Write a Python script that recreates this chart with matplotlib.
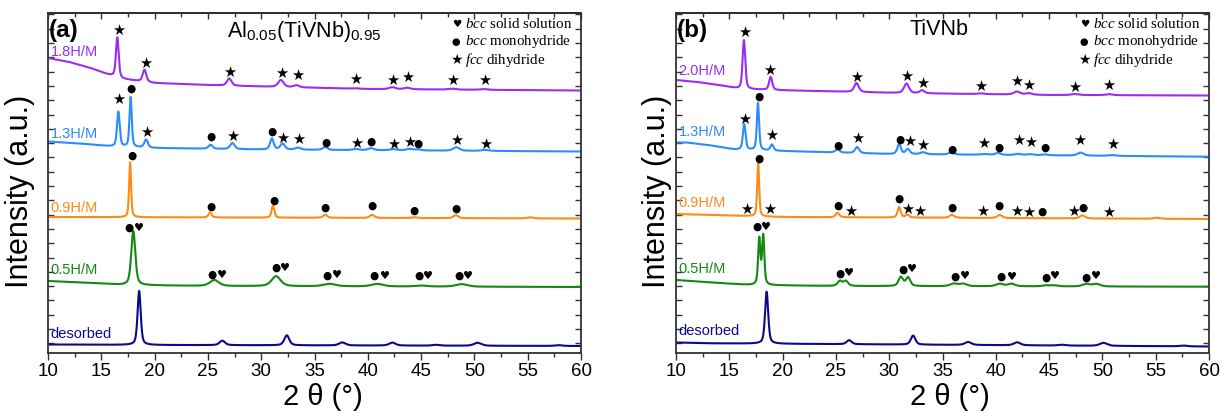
import numpy as np
import matplotlib
matplotlib.use("Agg")
import matplotlib.pyplot as plt
from matplotlib.ticker import MultipleLocator, FixedLocator

plt.rcParams['font.family'] = ['Liberation Sans', 'DejaVu Sans']
plt.rcParams['mathtext.default'] = 'regular'
plt.rcParams['mathtext.fontset'] = 'custom'
plt.rcParams['mathtext.rm'] = 'Liberation Sans'
plt.rcParams['mathtext.it'] = 'Liberation Serif:italic'

# ---------------- panel (a): Al0.05(TiVNb)0.95 ----------------
# baseline anchors (2theta, offset intensity) and peaks (2theta, height, fwhm)
A_DES_BX = [10, 20, 40, 60]
A_DES_BY = [8.5, 8, 7.5, 7]
A_DES_POS = [18.55, 26.35, 32.4, 37.6, 42.3, 46.4, 50.3, 57.9]
A_DES_HT = [54, 4.5, 10, 3, 3, 0.8, 3, 0.8]
A_DES_FW = [0.35, 0.6, 0.55, 0.7, 0.7, 0.8, 0.8, 0.8]

A_05_BX = [10, 14, 17, 25, 60]
A_05_BY = [72, 70, 68, 67, 66]
A_05_POS = [18.0, 25.6, 31.4, 36.4, 40.9, 45.0, 48.8]
A_05_HT = [54, 6, 10, 2.5, 2.5, 1, 2.5]
A_05_FW = [0.45, 1.0, 1.0, 1.3, 1.3, 1.3, 1.3]

A_09_BX = [10, 60]
A_09_BY = [136, 134.5]
A_09_POS = [17.7, 25.2, 31.1, 36.0, 40.4, 44.4, 48.25, 55.2]
A_09_HT = [55, 5, 12, 3, 3, 0.8, 3, 1]
A_09_FW = [0.22, 0.35, 0.3, 0.45, 0.5, 0.6, 0.5, 0.7]

A_13_BX = [10, 13, 16, 20, 30, 45, 60]
A_13_BY = [211.5, 209.5, 206.5, 205, 203.5, 202.5, 201.5]
A_13_POS = [16.6, 17.75, 19.2, 25.25, 27.3, 31.0, 32.0, 33.45, 36.0, 38.9, 40.3, 42.4, 43.9, 44.7, 48.3, 51.0]
A_13_HT = [35, 50, 8, 4, 6, 11, 6, 2, 3, 1, 2, 1.2, 1.5, 1, 3.5, 1]
A_13_FW = [0.3, 0.25, 0.4, 0.45, 0.5, 0.4, 0.5, 0.6, 0.5, 0.7, 0.6, 0.7, 0.7, 0.7, 0.7, 0.8]

A_18_BX = [10, 12, 14, 15.5, 17, 20, 25, 30, 40, 60]
A_18_BY = [295, 291, 285, 279, 274, 270, 268, 266.5, 264, 262.5]
A_18_POS = [16.5, 19.05, 27.0, 31.85, 33.3, 38.8, 42.3, 43.7, 47.9, 50.9]
A_18_HT = [40, 12, 7, 7, 2, 0.5, 2, 1.5, 1, 0.7]
A_18_FW = [0.3, 0.4, 0.5, 0.6, 0.6, 0.7, 0.7, 0.7, 0.8, 0.8]

# phase markers: 2theta, height, symbol
A_05_MX = [17.62, 18.5, 25.37, 26.28, 31.34, 32.21, 36.21, 37.15, 40.58, 41.61, 44.8, 45.68, 48.55, 49.43]
A_05_MY = [125.3, 125.3, 78, 78, 85.3, 85.3, 77.7, 77.7, 77, 77, 77, 77, 77.3, 77.3]
A_05_MS = "●♥" * 7
A_09_MX = [17.84, 25.25, 31.15, 35.96, 40.43, 44.37, 48.24]
A_09_MY = [197.3, 146.7, 152.7, 145.7, 147, 142.7, 144.7]
A_09_MS = "●" * 7
A_13_MX = [16.63, 17.78, 19.25, 25.25, 27.34, 31.02, 32.02, 33.5, 36.03, 38.93, 40.3, 42.43, 43.9, 44.74, 48.33, 51.05]
A_13_MY = [253.7, 264, 221, 216.7, 216.7, 221.7, 214.7, 213.3, 210.7, 209.3, 211.7, 208.7, 210.7, 209.7, 212.7, 208.3]
A_13_MS = "★●★●★●★★●★●★★●★★"
A_18_MX = [16.65, 19.12, 27.06, 31.93, 33.4, 38.84, 42.33, 43.77, 47.93, 50.98]
A_18_MY = [322.3, 290, 280.7, 279.7, 277.7, 273.3, 272.7, 275.3, 272.3, 272.3]
A_18_MS = "★" * 10

# ---------------- panel (b): TiVNb ----------------
B_DES_BX = [10, 13, 60]
B_DES_BY = [10.5, 9.7, 6.5]
B_DES_POS = [18.5, 26.24, 32.24, 37.4, 42.0, 46.2, 50.1, 57.6]
B_DES_HT = [52, 4, 9, 3, 3, 0.8, 3, 0.8]
B_DES_FW = [0.35, 0.55, 0.5, 0.7, 0.7, 0.8, 0.8, 0.8]

B_05_BX = [10, 14, 17, 25, 60]
B_05_BY = [73, 70, 68, 67, 66.3]
B_05_POS = [17.81, 18.18, 25.37, 25.93, 31.09, 31.77, 36.05, 36.93, 40.37, 41.46, 44.7, 45.5, 48.49, 49.43]
B_05_HT = [46, 49, 5, 5, 9, 8.5, 2.5, 2.5, 2.5, 2.5, 1, 1, 2.5, 2.5]
B_05_FW = [0.25, 0.25, 0.5, 0.5, 0.5, 0.5, 0.8, 0.8, 0.8, 0.8, 0.8, 0.8, 0.8, 0.8]

B_09_BX = [10, 20, 60]
B_09_BY = [139, 136, 134]
B_09_POS = [17.71, 25.15, 30.93, 31.7, 35.87, 40.37, 48.12, 55.1]
B_09_HT = [53, 4.5, 10.5, 3, 3, 3, 3, 1]
B_09_FW = [0.22, 0.4, 0.35, 0.4, 0.5, 0.55, 0.55, 0.7]

B_13_BX = [10, 11, 13, 15.5, 20, 30, 60]
B_13_BY = [210.5, 210.5, 208, 203.5, 202, 199, 196.3]
B_13_POS = [16.4, 17.69, 19.0, 25.15, 26.99, 30.93, 31.74, 33.18, 35.84, 38.9, 40.2, 42.1, 43.2, 44.6, 47.96, 50.9]
B_13_HT = [25.5, 47, 6, 3.5, 6, 10, 5, 2, 3, 0.8, 2, 1.2, 1, 0.8, 3, 0.8]
B_13_FW = [0.3, 0.25, 0.35, 0.45, 0.45, 0.4, 0.45, 0.6, 0.5, 0.7, 0.6, 0.7, 0.7, 0.7, 0.7, 0.8]

B_20_BX = [10, 12, 14, 16, 19, 27, 31, 45, 60]
B_20_BY = [273, 271, 268, 264, 263, 261, 260, 258, 257.5]
B_20_POS = [16.37, 18.88, 26.93, 31.62, 33.08, 38.6, 41.99, 43.1, 47.4, 50.6]
B_20_HT = [49, 13, 9, 9.5, 3, 0.7, 3, 1.5, 1, 1]
B_20_FW = [0.3, 0.35, 0.5, 0.55, 0.5, 0.7, 0.7, 0.7, 0.8, 0.8]

B_05_MX = [17.62, 18.43, 25.34, 26.21, 31.27, 32.15, 36.15, 37.09, 40.49, 41.56, 44.7, 45.59, 48.45, 49.39]
B_05_MY = [126.3, 125.7, 79, 79.7, 83.7, 83.7, 76.3, 77, 76.3, 76.3, 75.7, 77, 75.7, 77]
B_05_MS = "●♥" * 7
B_09_MX = [17.75, 16.65, 18.74, 25.15, 26.37, 30.95, 31.76, 32.82, 35.87, 38.8, 40.34, 41.93, 43.08, 44.36, 47.3, 48.17, 50.6]
B_09_MY = [194.7, 144, 144, 147.3, 141.7, 154, 143.8, 141.3, 145.7, 141.3, 147.7, 141.3, 140.3, 141.7, 141.3, 145.7, 140.7]
B_09_MS = "●★★●★●★★●★●★★●★●★"
B_13_MX = [16.44, 17.75, 19.0, 25.15, 27.03, 31.02, 31.93, 33.18, 35.84, 38.87, 40.27, 42.12, 43.24, 44.58, 47.89, 50.93]
B_13_MY = [234, 256.7, 217.3, 207.7, 214.7, 213, 211.3, 207.7, 203.7, 209.7, 205, 212.7, 210.7, 205, 212.7, 208.7]
B_13_MS = "★●★●★●★★●★●★★●★★"
B_20_MX = [16.44, 18.81, 26.96, 31.62, 33.12, 38.58, 41.96, 43.11, 47.37, 50.58]
B_20_MY = [320.3, 283, 275.3, 276.3, 269.7, 266.3, 272, 267.3, 265.7, 267.7]
B_20_MS = "★" * 10

A_LABELS = ["desorbed", "0.5H/M", "0.9H/M", "1.3H/M", "1.8H/M"]
B_LABELS = ["desorbed", "0.5H/M", "0.9H/M", "1.3H/M", "2.0H/M"]
COLORS = ["#0a0a8c", "#128a12", "#ff8a14", "#2b8cff", "#9a2ef0"]

LEGEND_SYM = ["♥", "●", "★"]
LEGEND_TXT = [r"$\mathit{bcc}$ solid solution", r"$\mathit{bcc}$ monohydride", r"$\mathit{fcc}$ dihydride"]

# glyph sizes for the phase symbols
SYM_SIZE = {"★": 10.5, "●": 7.6, "♥": 8}

tt = np.linspace(10, 60, 5001)


def pattern(bx, by, pos, ht, fw):
    y = np.interp(tt, bx, by)
    for p, h, w in zip(pos, ht, fw):
        d = (tt - p) / w
        y = y + h * (0.5 * np.exp(-4 * np.log(2) * d ** 2) + 0.5 / (1 + 4 * d ** 2))
    return y


def draw_panel(ax, curves, markers, labels, label_y, tag, title, title_x, title_y):
    for (bx, by, pos, ht, fw), col in zip(curves, COLORS):
        ax.plot(tt, pattern(bx, by, pos, ht, fw), color=col, lw=1.5)
    for mx, my, ms in markers:
        for x, y, s in zip(mx, my, ms):
            ax.text(x, y, s, ha='center', va='center', fontsize=SYM_SIZE[s],
                    family=['DejaVu Sans'], color='black')
    for lab, ly, col in zip(labels, label_y, COLORS):
        ax.text(10.25, ly, lab, color=col, fontsize=10.5, ha='left', va='center')
    ax.text(10.1, 322, tag, fontsize=17.5, fontweight='bold', ha='left', va='center')
    ax.text(title_x, title_y, title, fontsize=15.5, ha='center', va='baseline')
    for i, (s, t) in enumerate(zip(LEGEND_SYM, LEGEND_TXT)):
        yy = 329 - i * 18
        ax.text(48.3, yy, s, fontsize=SYM_SIZE[s] - 0.5, family=['DejaVu Sans'], ha='center', va='center')
        ax.text(49.1, yy, t, fontsize=10.8, family=['Liberation Serif'], ha='left', va='center')

    ax.set_xlim(10, 60)
    ax.set_ylim(0, 340)
    ax.xaxis.set_major_locator(MultipleLocator(5))
    ax.xaxis.set_minor_locator(MultipleLocator(2.5))
    ax.yaxis.set_major_locator(FixedLocator(np.arange(9.7, 340, 14.3)))
    ax.set_yticklabels([])
    ax.tick_params(axis='x', which='major', direction='out', length=5, width=1, labelsize=13.5, pad=2, color='#333333')
    ax.tick_params(axis='x', which='minor', direction='out', length=3, width=1, color='#333333')
    ax.tick_params(axis='y', which='major', direction='in', length=4, width=1, left=True, right=True, color='#333333')
    for sp in ax.spines.values():
        sp.set_linewidth(1.3)
        sp.set_color('#333333')
    # top ticks
    top = ax.secondary_xaxis('top')
    top.xaxis.set_major_locator(MultipleLocator(5))
    top.xaxis.set_minor_locator(MultipleLocator(2.5))
    top.tick_params(which='major', direction='in', length=4, width=1, labeltop=False, color='#333333')
    top.tick_params(which='minor', direction='in', length=3, width=1, color='#333333')
    top.spines['top'].set_linewidth(1.3)
    ax.set_xlabel(u"2 \u03b8 (\u00b0)", fontsize=21)
    ax.set_ylabel("Intensity (a.u.)", fontsize=22)


W, H = 1225, 416
fig = plt.figure(figsize=(W / 100, H / 100), dpi=100)
ax_a = fig.add_axes([48 / W, 1 - 353 / H, 533 / W, 340 / H])
ax_b = fig.add_axes([676 / W, 1 - 353 / H, 533 / W, 340 / H])

curves_a = [(A_DES_BX, A_DES_BY, A_DES_POS, A_DES_HT, A_DES_FW),
            (A_05_BX, A_05_BY, A_05_POS, A_05_HT, A_05_FW),
            (A_09_BX, A_09_BY, A_09_POS, A_09_HT, A_09_FW),
            (A_13_BX, A_13_BY, A_13_POS, A_13_HT, A_13_FW),
            (A_18_BX, A_18_BY, A_18_POS, A_18_HT, A_18_FW)]
marks_a = [(A_05_MX, A_05_MY, A_05_MS), (A_09_MX, A_09_MY, A_09_MS),
           (A_13_MX, A_13_MY, A_13_MS), (A_18_MX, A_18_MY, A_18_MS)]
curves_b = [(B_DES_BX, B_DES_BY, B_DES_POS, B_DES_HT, B_DES_FW),
            (B_05_BX, B_05_BY, B_05_POS, B_05_HT, B_05_FW),
            (B_09_BX, B_09_BY, B_09_POS, B_09_HT, B_09_FW),
            (B_13_BX, B_13_BY, B_13_POS, B_13_HT, B_13_FW),
            (B_20_BX, B_20_BY, B_20_POS, B_20_HT, B_20_FW)]
marks_b = [(B_05_MX, B_05_MY, B_05_MS), (B_09_MX, B_09_MY, B_09_MS),
           (B_13_MX, B_13_MY, B_13_MS), (B_20_MX, B_20_MY, B_20_MS)]

draw_panel(ax_a, curves_a, marks_a, A_LABELS, [19, 83, 144.7, 219.3, 300.5],
           "(a)", r"Al$_{0.05}$(TiVNb)$_{0.95}$", 34.0, 316)
draw_panel(ax_b, curves_b, marks_b, B_LABELS, [22, 84, 149.7, 221.3, 282.3],
           "(b)", "TiVNb", 34.7, 318)

ax_a.yaxis.set_label_coords(-0.024, 0.474)
ax_b.yaxis.set_label_coords(-0.008, 0.474)
ax_a.xaxis.set_label_coords(0.516, -0.088)
ax_b.xaxis.set_label_coords(0.514, -0.088)

fig.savefig("out.png", dpi=100)
